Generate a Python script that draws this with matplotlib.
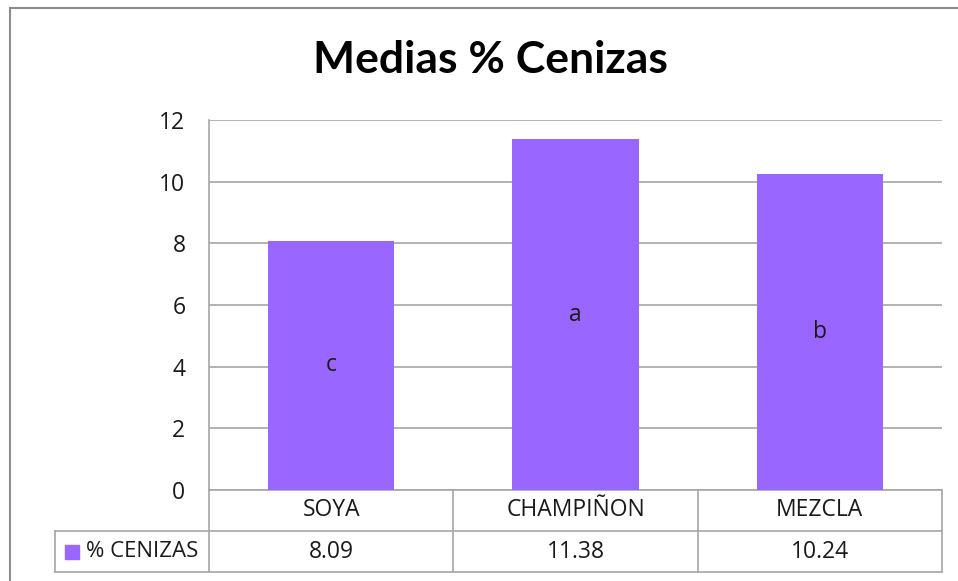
import matplotlib.pyplot as plt
from matplotlib.patches import Rectangle
from matplotlib.lines import Line2D

# Data
categories = ["SOYA", "CHAMPIÑON", "MEZCLA"]
cenizas = [8.09, 11.38, 10.24]
letters = ["c", "a", "b"]
table_values = ["8.09", "11.38", "10.24"]
series_name = "% CENIZAS"
yticks = [0, 2, 4, 6, 8, 10, 12]

bar_color = "#9966FF"
grid_color = "#a6a6a6"
text_color = "#1a1a1a"
font = "Open Sans"

fig = plt.figure(figsize=(9.58, 5.81), dpi=100)
ax = fig.add_axes([209 / 958, 1 - 490 / 581, 733 / 958, 370 / 581])

x = list(range(len(categories)))
ax.bar(x, cenizas, width=0.516, color=bar_color, zorder=3)
for xi, v, lab in zip(x, cenizas, letters):
    ax.text(xi, v / 2, lab, ha="center", va="center", fontsize=16.5,
            color=text_color, family=font, zorder=4)

ax.set_xlim(-0.5, len(categories) - 0.5)
ax.set_ylim(0, 12)
ax.set_yticks(yticks)
ax.set_yticklabels([str(t) for t in yticks], fontsize=16.5, color=text_color, family=font)
ax.tick_params(axis="y", length=0, pad=17)
ax.set_xticks([])
ax.yaxis.grid(True, color=grid_color, linewidth=1.2, zorder=0)
for s in ["top", "right", "bottom"]:
    ax.spines[s].set_visible(False)
ax.spines["left"].set_color(grid_color)
ax.spines["left"].set_linewidth(1.2)

# data table under the plot (axes coordinates)
row1 = -41 / 370
row2 = -82 / 370
leg_left = (55 - 209) / 733
tkw = dict(color=grid_color, linewidth=1.2, transform=ax.transAxes, clip_on=False)
ax.add_line(Line2D([0, 1], [0, 0], **tkw))
ax.add_line(Line2D([leg_left, 1], [row1, row1], **tkw))
ax.add_line(Line2D([leg_left, 1], [row2, row2], **tkw))
ax.add_line(Line2D([leg_left, leg_left], [row1, row2], **tkw))
for i in range(len(categories) + 1):
    xf = i / len(categories)
    ax.add_line(Line2D([xf, xf], [0, row2], **tkw))

for i, (cat, val) in enumerate(zip(categories, table_values)):
    xc = (i + 0.5) / len(categories)
    ax.text(xc, row1 / 2, cat, transform=ax.transAxes, ha="center", va="center",
            fontsize=16.5, color=text_color, family=font)
    ax.text(xc, (row1 + row2) / 2, val, transform=ax.transAxes, ha="center",
            va="center", fontsize=16.5, color=text_color, family=font)

# legend key in the table
ax.add_patch(Rectangle(((65 - 209) / 733, (row1 + row2) / 2 - 7 / 370), 14 / 733, 14 / 370,
                       transform=ax.transAxes, color=bar_color, clip_on=False))
ax.text((86 - 209) / 733, (row1 + row2) / 2, series_name, transform=ax.transAxes,
        ha="left", va="center", fontsize=16, color=text_color, family=font)

fig.text(490 / 958, 1 - 60 / 581, "Medias % Cenizas", ha="center", va="center",
         fontsize=32, fontweight="bold", color="black", family="Lato")

# outer chart frame (only left and top edges are visible in the crop)
fkw = dict(color="#8c8c8c", linewidth=1.5, transform=fig.transFigure)
fig.add_artist(Line2D([10 / 958, 10 / 958], [0, 1 - 8 / 581], **fkw))
fig.add_artist(Line2D([10 / 958, 1], [1 - 8 / 581, 1 - 8 / 581], **fkw))

fig.savefig("out.png", dpi=100, facecolor="white")
